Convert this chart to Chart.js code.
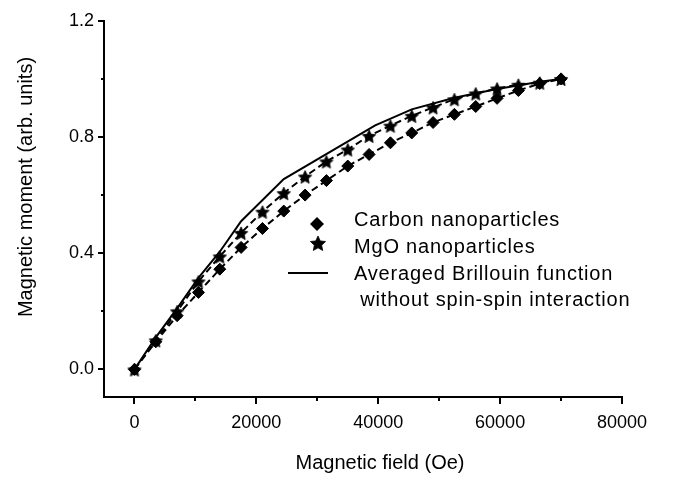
<!DOCTYPE html>
<html lang="en">
<head>
  <meta charset="UTF-8">
  <title>Magnetic moment vs field</title>
  <script src="https://cdn.jsdelivr.net/npm/chart.js"></script>
  <style>
    body { margin: 0; background: #fff; }
  </style>
</head>
<body>
  <canvas id="momentChart" width="673" height="480"></canvas>

  <script>
    // applied field (Oe) for the measured points
    const fieldOe = [0, 3500, 7000, 10500, 14000, 17500, 21000, 24500, 28000, 31500, 35000,
                     38500, 42000, 45500, 49000, 52500, 56000, 59500, 63000, 66500, 70000];
    const carbonMoment = [0, 0.095, 0.185, 0.265, 0.345, 0.42, 0.485, 0.545, 0.60, 0.65, 0.70,
                          0.74, 0.78, 0.814, 0.85, 0.878, 0.905, 0.933, 0.96, 0.984, 1.0];
    const mgoMoment = [0, 0.10, 0.20, 0.303, 0.389, 0.47, 0.543, 0.607, 0.664, 0.716, 0.757,
                       0.804, 0.839, 0.873, 0.902, 0.93, 0.95, 0.967, 0.98, 0.987, 1.0];

    // averaged Brillouin curve (no spin-spin interaction)
    const brillouinField = [0, 3500, 7000, 10500, 14000, 17500, 24500, 39500, 45500, 52500, 59500, 66500, 70000];
    const brillouinMoment = [0, 0.11, 0.21, 0.315, 0.405, 0.51, 0.655, 0.84, 0.895, 0.935, 0.965, 0.99, 1.0];

    const xTicks = [0, 10000, 20000, 30000, 40000, 50000, 60000, 70000, 80000];
    const xLabeled = [0, 20000, 40000, 60000, 80000];
    const yTicks = [0, 0.2, 0.4, 0.6, 0.8, 1.0, 1.2];
    const yLabeled = [0, 0.4, 0.8, 1.2];

    const seriesNames = ['Carbon nanoparticles', 'MgO nanoparticles', 'Averaged Brillouin function',
                         ' without spin-spin interaction'];

    const FONT = '"Liberation Sans", Arial, sans-serif';

    function toPoints(xs, ys) {
      return xs.map((x, i) => ({ x: x, y: ys[i] }));
    }

    // filled five-point star used as a point style
    function makeStar(r) {
      const s = Math.ceil(r * 2) + 2;
      const c = document.createElement('canvas');
      c.width = s;
      c.height = s;
      const g = c.getContext('2d');
      g.fillStyle = '#000';
      g.strokeStyle = '#000';
      g.lineWidth = 0.8;
      g.beginPath();
      for (let i = 0; i < 10; i++) {
        const a = -Math.PI / 2 + i * Math.PI / 5;
        const rr = i % 2 ? r * 0.48 : r;
        g.lineTo(s / 2 + rr * Math.cos(a), s / 2 + 1 + rr * Math.sin(a));
      }
      g.closePath();
      g.fill();
      g.stroke();
      return c;
    }

    const starSmall = makeStar(7);
    const starLegend = makeStar(8);

    // tick marks, axis titles and the in-plot legend
    const decor = {
      id: 'decor',
      afterDraw(chart) {
        const c = chart.ctx;
        const xs = chart.scales.x;
        const ys = chart.scales.y;
        const area = chart.chartArea;
        c.save();
        c.strokeStyle = '#000';
        c.lineWidth = 2;
        c.beginPath();
        xTicks.forEach(v => {
          const px = Math.round(xs.getPixelForValue(v));
          const len = xLabeled.includes(v) ? 7 : 4;
          c.moveTo(px, area.bottom);
          c.lineTo(px, area.bottom + len);
        });
        yTicks.forEach(v => {
          const py = Math.round(ys.getPixelForValue(v));
          const len = yLabeled.includes(v) ? 6 : 3;
          c.moveTo(area.left, py);
          c.lineTo(area.left - len, py);
        });
        c.stroke();

        c.fillStyle = '#000';
        c.font = '20px ' + FONT;
        c.textAlign = 'center';
        c.textBaseline = 'middle';
        c.fillText('Magnetic field (Oe)', 380, 463);
        c.save();
        c.translate(26, 187);
        c.rotate(-Math.PI / 2);
        c.fillText('Magnetic moment (arb. units)', 0, 0);
        c.restore();

        // legend
        c.beginPath();
        c.moveTo(317, 224 - 7);
        c.lineTo(324, 224);
        c.lineTo(317, 224 + 7);
        c.lineTo(310, 224);
        c.closePath();
        c.fill();
        c.drawImage(starLegend, Math.round(318 - starLegend.width / 2), Math.round(243 - starLegend.height / 2));
        c.beginPath();
        c.moveTo(288, 273);
        c.lineTo(328, 273);
        c.stroke();

        c.textAlign = 'left';
        c.letterSpacing = '0.8px';
        c.fillText(seriesNames[0], 354, 220);
        c.fillText(seriesNames[1], 354, 247);
        c.fillText(seriesNames[2], 354, 274);
        c.fillText(seriesNames[3], 354, 300);
        c.restore();
      }
    };

    const ctx = document.getElementById('momentChart').getContext('2d');
    new Chart(ctx, {
      type: 'line',
      data: {
        datasets: [
          {
            label: seriesNames[2],
            data: toPoints(brillouinField, brillouinMoment),
            borderColor: '#000',
            borderWidth: 2,
            pointRadius: 0,
            tension: 0,
            fill: false
          },
          {
            label: seriesNames[1],
            data: toPoints(fieldOe, mgoMoment),
            borderColor: '#000',
            borderWidth: 2,
            borderDash: [7, 4],
            pointStyle: starSmall,
            pointRadius: 7,
            tension: 0,
            fill: false
          },
          {
            label: seriesNames[0],
            data: toPoints(fieldOe, carbonMoment),
            borderColor: '#000',
            backgroundColor: '#000',
            borderWidth: 2,
            borderDash: [7, 4],
            pointStyle: 'rectRot',
            pointRadius: 6,
            pointBorderWidth: 1,
            tension: 0,
            fill: false
          }
        ]
      },
      options: {
        responsive: false,
        animation: false,
        layout: { padding: { top: 14, right: 51, left: 0, bottom: 0 } },
        plugins: {
          legend: { display: false },
          tooltip: { enabled: false }
        },
        scales: {
          x: {
            type: 'linear',
            min: -5000,
            max: 80000,
            grid: { display: false, drawTicks: false },
            border: { display: true, color: '#000', width: 2 },
            afterBuildTicks: scale => { scale.ticks = xTicks.map(v => ({ value: v })); },
            afterFit: scale => { scale.height = 83; },
            ticks: {
              autoSkip: false,
              maxRotation: 0,
              padding: 15,
              color: '#000',
              font: { family: FONT, size: 18 },
              callback: v => (xLabeled.includes(v) ? String(v) : '')
            }
          },
          y: {
            type: 'linear',
            min: -0.095,
            max: 1.2,
            grid: { display: false, drawTicks: false },
            border: { display: true, color: '#000', width: 2 },
            afterBuildTicks: scale => { scale.ticks = yTicks.map(v => ({ value: v })); },
            afterFit: scale => { scale.width = 104; },
            ticks: {
              padding: 10,
              color: '#000',
              font: { family: FONT, size: 18 },
              callback: v => (yLabeled.includes(v) ? v.toFixed(1) : '')
            }
          }
        }
      },
      plugins: [decor]
    });
  </script>
</body>
</html>
